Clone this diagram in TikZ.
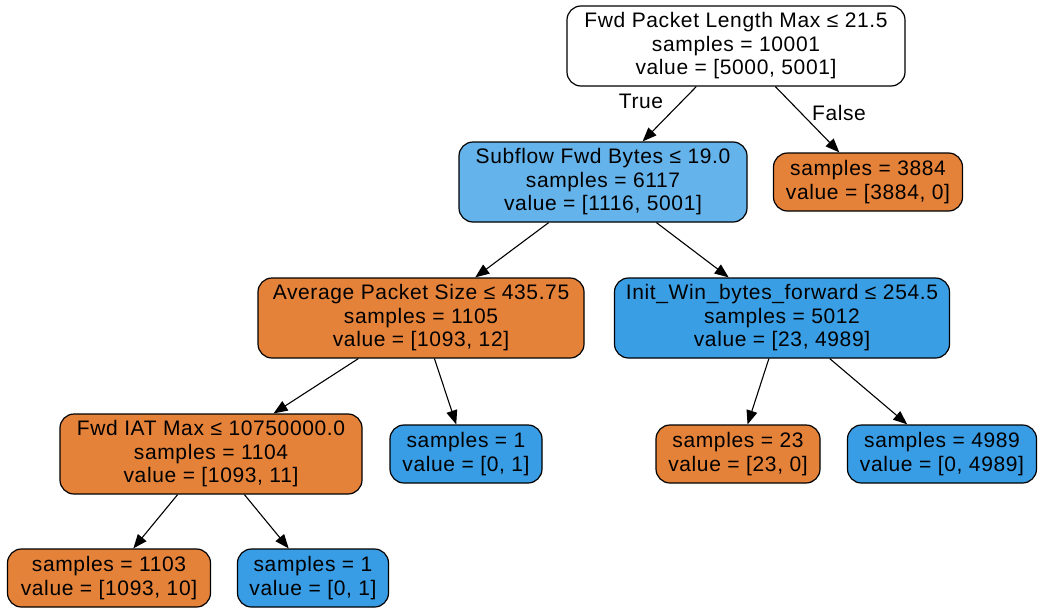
\documentclass[tikz,border=0pt]{standalone}
\usepackage{fontspec}
\setmainfont{Liberation Sans}[LetterSpace=3.0]
\usetikzlibrary{arrows.meta}
\definecolor{orng}{HTML}{E5823A}
\definecolor{blu}{HTML}{399DE5}
\definecolor{lblu}{HTML}{65B3EB}
\definecolor{iblu}{HTML}{3A9EE5}
\begin{document}
\begin{tikzpicture}[x=1pt,y=-1pt,
  tn/.style={draw=black, line width=1.2pt, rounded corners=14pt, align=center, inner sep=0pt,
    font=\fontsize{21}{23.5}\selectfont},
  big/.style={tn, minimum height=80pt},
  leaf/.style={tn, minimum height=58pt},
  edge/.style={line width=1.1pt, -{Triangle[length=14pt,width=11pt]}},
  lbl/.style={font=\fontsize{21}{23}\selectfont, inner sep=0pt}]
\useasboundingbox (0,0) rectangle (1039,608);
\node[big, fill=white, minimum width=338pt] (root) at (736,46) {Fwd Packet Length Max ≤ 21.5\\samples = 10001\\value = [5000, 5001]};
\node[big, fill=lblu, minimum width=288pt] (sub) at (603,182) {Subflow Fwd Bytes ≤ 19.0\\samples = 6117\\value = [1116, 5001]};
\node[leaf, fill=orng, minimum width=189pt] (l3884) at (868,182) {samples = 3884\\value = [3884, 0]};
\node[big, fill=orng, minimum width=326pt] (avg) at (421,318) {Average Packet Size ≤ 435.75\\samples = 1105\\value = [1093, 12]};
\node[big, fill=iblu, minimum width=335pt] (init) at (782,318) {Init\_Win\_bytes\_forward ≤ 254.5\\samples = 5012\\value = [23, 4989]};
\node[big, fill=orng, minimum width=302pt] (iat) at (211,454) {Fwd IAT Max ≤ 10750000.0\\samples = 1104\\value = [1093, 11]};
\node[leaf, fill=blu, minimum width=152pt] (s1a) at (466,454) {samples = 1\\value = [0, 1]};
\node[leaf, fill=orng, minimum width=164pt] (s23) at (738,454) {samples = 23\\value = [23, 0]};
\node[leaf, fill=blu, minimum width=189pt] (s4989) at (942,454) {samples = 4989\\value = [0, 4989]};
\node[leaf, fill=orng, minimum width=203pt] (s1103) at (109,578) {samples = 1103\\value = [1093, 10]};
\node[leaf, fill=blu, minimum width=151pt] (s1b) at (313,578) {samples = 1\\value = [0, 1]};
\draw[edge] (root) -- (sub);
\draw[edge] (root) -- (l3884);
\draw[edge] (sub) -- (avg);
\draw[edge] (sub) -- (init);
\draw[edge] (avg) -- (iat);
\draw[edge] (avg) -- (s1a);
\draw[edge] (init) -- (s23);
\draw[edge] (init) -- (s4989);
\draw[edge] (iat) -- (s1103);
\draw[edge] (iat) -- (s1b);
\node[lbl] (t) at (641,101) {True};
\node[lbl] (f) at (839,113) {False};
\end{tikzpicture}
\end{document}
